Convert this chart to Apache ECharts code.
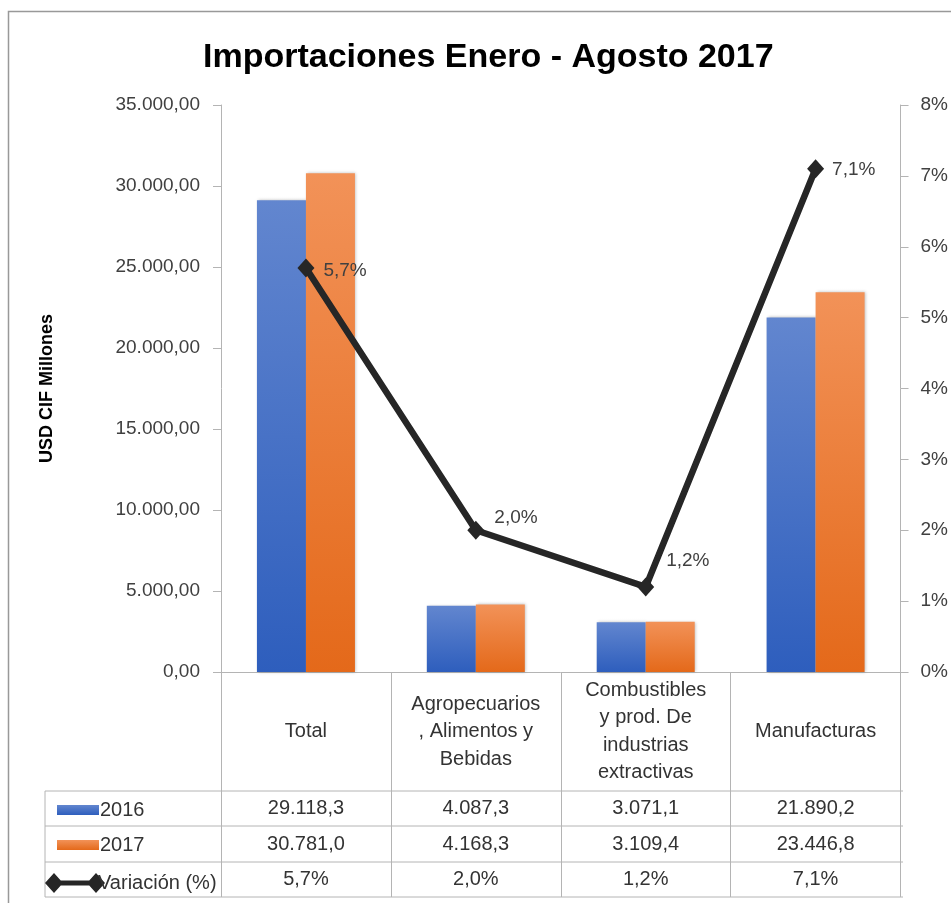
<!DOCTYPE html>
<html>
<head>
<meta charset="utf-8">
<script src="https://cdn.jsdelivr.net/npm/echarts@6/dist/echarts.min.js"></script>
<style>
html,body{margin:0;padding:0;background:#fff;}
#chart{width:951px;height:903px;}
</style>
</head>
<body>
<div id="chart"></div>
<script>
// ---- data ----
var categories = ['Total', 'Agropecuarios\n, Alimentos y\nBebidas', 'Combustibles\ny prod. De\nindustrias\nextractivas', 'Manufacturas'];
var seriesNames = ['2016', '2017', 'Variación (%)'];
var values2016 = [29118.3, 4087.3, 3071.1, 21890.2];
var values2017 = [30781.0, 4168.3, 3109.4, 23446.8];
var variation = [5.7, 2.0, 1.2, 7.1];
var leftTicks = {min: 0, max: 35000, interval: 5000};
var rightTicks = {min: 0, max: 8, interval: 1};
var titleText = 'Importaciones Enero - Agosto 2017';
var yAxisName = 'USD CIF Millones';

// ---- styling (label nudges, not data) ----
var lineLabelOffsets = [[3, 3], [4, -12], [6, -26], [2, 1]];

// ---- helpers ----
function fmt(v, d) {
  var s = Number(v).toFixed(d);
  var parts = s.split('.');
  var ip = parts[0].replace(/\B(?=(\d{3})+(?!\d))/g, '.');
  return d > 0 ? ip + ',' + parts[1] : ip;
}
var FONT = 'Liberation Sans, Arial, sans-serif';
var TXT = '#333333';
var AXT = '#404040';
var GRIDC = '#b4b4b4';

var row1 = values2016.map(function (v) { return fmt(v, 1); });
var row2 = values2017.map(function (v) { return fmt(v, 1); });
var row3 = variation.map(function (v) { return fmt(v, 1) + '%'; });

function rowAxis(data, margin) {
  return {
    type: 'category', gridIndex: 0, position: 'bottom', data: data,
    axisLine: {show: false}, axisTick: {show: false}, splitLine: {show: false},
    axisLabel: {interval: 0, margin: margin, verticalAlign: 'middle', color: TXT, fontSize: 20, fontFamily: FONT}
  };
}

var blueGrad = new echarts.graphic.LinearGradient(0, 0, 0, 1, [
  {offset: 0, color: '#6286cf'}, {offset: 1, color: '#2e5ebd'}]);
var orangeGrad = new echarts.graphic.LinearGradient(0, 0, 0, 1, [
  {offset: 0, color: '#f29258'}, {offset: 1, color: '#e4691a'}]);

var varIcon = 'path://M0,10 L9,0 L18,10 L9,20 Z M14,7.5 L46,7.5 L46,12.5 L14,12.5 Z M42,10 L51,0 L60,10 L51,20 Z';

var lineData = variation.map(function (v, i) {
  return {value: v, label: {offset: lineLabelOffsets[i]}};
});

var chart = echarts.init(document.getElementById('chart'), null, {renderer: 'canvas'});
var gridL = 221, gridR = 48, gridT = 105, gridB = 231;
var option = {
  backgroundColor: '#ffffff',
  animation: false,
  title: {
    text: titleText, left: 198, top: 36,
    textStyle: {fontFamily: FONT, fontWeight: 'bold', fontSize: 34, color: '#000'}
  },
  grid: {left: gridL, right: gridR, top: gridT, bottom: gridB, containLabel: false},
  legend: [{
    orient: 'vertical', left: 52, top: 795, itemWidth: 42, itemHeight: 10, itemGap: 15,
    data: [{name: seriesNames[0], icon: 'rect'}, {name: seriesNames[1], icon: 'rect'}],
    textStyle: {fontFamily: FONT, fontSize: 20, color: TXT, lineHeight: 20, padding: [0, 0, 0, -4]},
    itemStyle: {borderWidth: 0}
  }, {
    orient: 'vertical', left: 40, top: 868, itemWidth: 60, itemHeight: 20, itemGap: 0,
    data: [{name: seriesNames[2], icon: varIcon}],
    textStyle: {fontFamily: FONT, fontSize: 20, color: TXT, lineHeight: 20, padding: [0, 0, 0, -12]},
    itemStyle: {color: '#262626', borderWidth: 0}
  }],
  xAxis: [{
    type: 'category', gridIndex: 0, data: categories, position: 'bottom',
    axisLine: {show: true, lineStyle: {color: GRIDC, width: 1}},
    axisTick: {show: true, length: 225, inside: false, lineStyle: {color: GRIDC, width: 1}},
    axisLabel: {interval: 0, margin: 59.5, verticalAlign: 'middle', color: TXT, fontSize: 20, fontFamily: FONT, lineHeight: 27.5, align: 'center'}
  },
    rowAxis(row1, 136.5),
    rowAxis(row2, 172),
    rowAxis(row3, 207.5)
  ],
  yAxis: [{
    type: 'value', min: leftTicks.min, max: leftTicks.max, interval: leftTicks.interval,
    name: yAxisName, nameLocation: 'middle', nameGap: 165, nameRotate: 90,
    nameTextStyle: {fontFamily: FONT, fontWeight: 'bold', fontSize: 18, color: '#000'},
    axisLine: {show: true, lineStyle: {color: GRIDC}},
    axisTick: {show: true, length: 8, lineStyle: {color: GRIDC}},
    splitLine: {show: false},
    axisLabel: {formatter: function (v) { return fmt(v, 2); }, margin: 21, color: AXT, fontSize: 19, fontFamily: FONT}
  }, {
    type: 'value', position: 'right', min: rightTicks.min, max: rightTicks.max, interval: rightTicks.interval,
    axisLine: {show: true, lineStyle: {color: GRIDC}},
    axisTick: {show: true, length: 8, lineStyle: {color: GRIDC}},
    splitLine: {show: false},
    axisLabel: {formatter: function (v) { return v + '%'; }, margin: 20, color: AXT, fontSize: 19, fontFamily: FONT}
  }],
  series: [{
    name: seriesNames[0], type: 'bar', xAxisIndex: 0, yAxisIndex: 0, data: values2016,
    barWidth: 49, barGap: '0%',
    itemStyle: {color: blueGrad, shadowColor: 'rgba(0,0,0,0.25)', shadowBlur: 3, shadowOffsetX: 1}
  }, {
    name: seriesNames[1], type: 'bar', xAxisIndex: 0, yAxisIndex: 0, data: values2017,
    barWidth: 49, barGap: '0%',
    itemStyle: {color: orangeGrad, shadowColor: 'rgba(0,0,0,0.25)', shadowBlur: 3, shadowOffsetX: 1}
  }, {
    name: seriesNames[2], type: 'line', xAxisIndex: 0, yAxisIndex: 1, data: lineData,
    symbol: 'diamond', symbolSize: [17, 19], z: 5,
    lineStyle: {color: '#262626', width: 6.5},
    itemStyle: {color: '#262626'},
    label: {show: true, position: 'right', distance: 6, color: AXT, fontSize: 19, fontFamily: FONT,
      formatter: function (p) { return fmt(p.value, 1) + '%'; }}
  }],
  graphic: [
    {type: 'rect', shape: {x: 8.5, y: 11.5, width: 1000, height: 1000}, style: {fill: 'none', stroke: '#999', lineWidth: 1.5}, silent: true, z: -1},
    {type: 'line', shape: {x1: 45, y1: 791, x2: 903, y2: 791}, style: {stroke: GRIDC, lineWidth: 1}, silent: true},
    {type: 'line', shape: {x1: 45, y1: 826, x2: 903, y2: 826}, style: {stroke: GRIDC, lineWidth: 1}, silent: true},
    {type: 'line', shape: {x1: 45, y1: 862, x2: 903, y2: 862}, style: {stroke: GRIDC, lineWidth: 1}, silent: true},
    {type: 'line', shape: {x1: 45, y1: 897, x2: 903, y2: 897}, style: {stroke: GRIDC, lineWidth: 1}, silent: true},
    {type: 'line', shape: {x1: 45, y1: 791, x2: 45, y2: 897}, style: {stroke: GRIDC, lineWidth: 1}, silent: true}
  ]
};
chart.setOption(option);
</script>
</body>
</html>
